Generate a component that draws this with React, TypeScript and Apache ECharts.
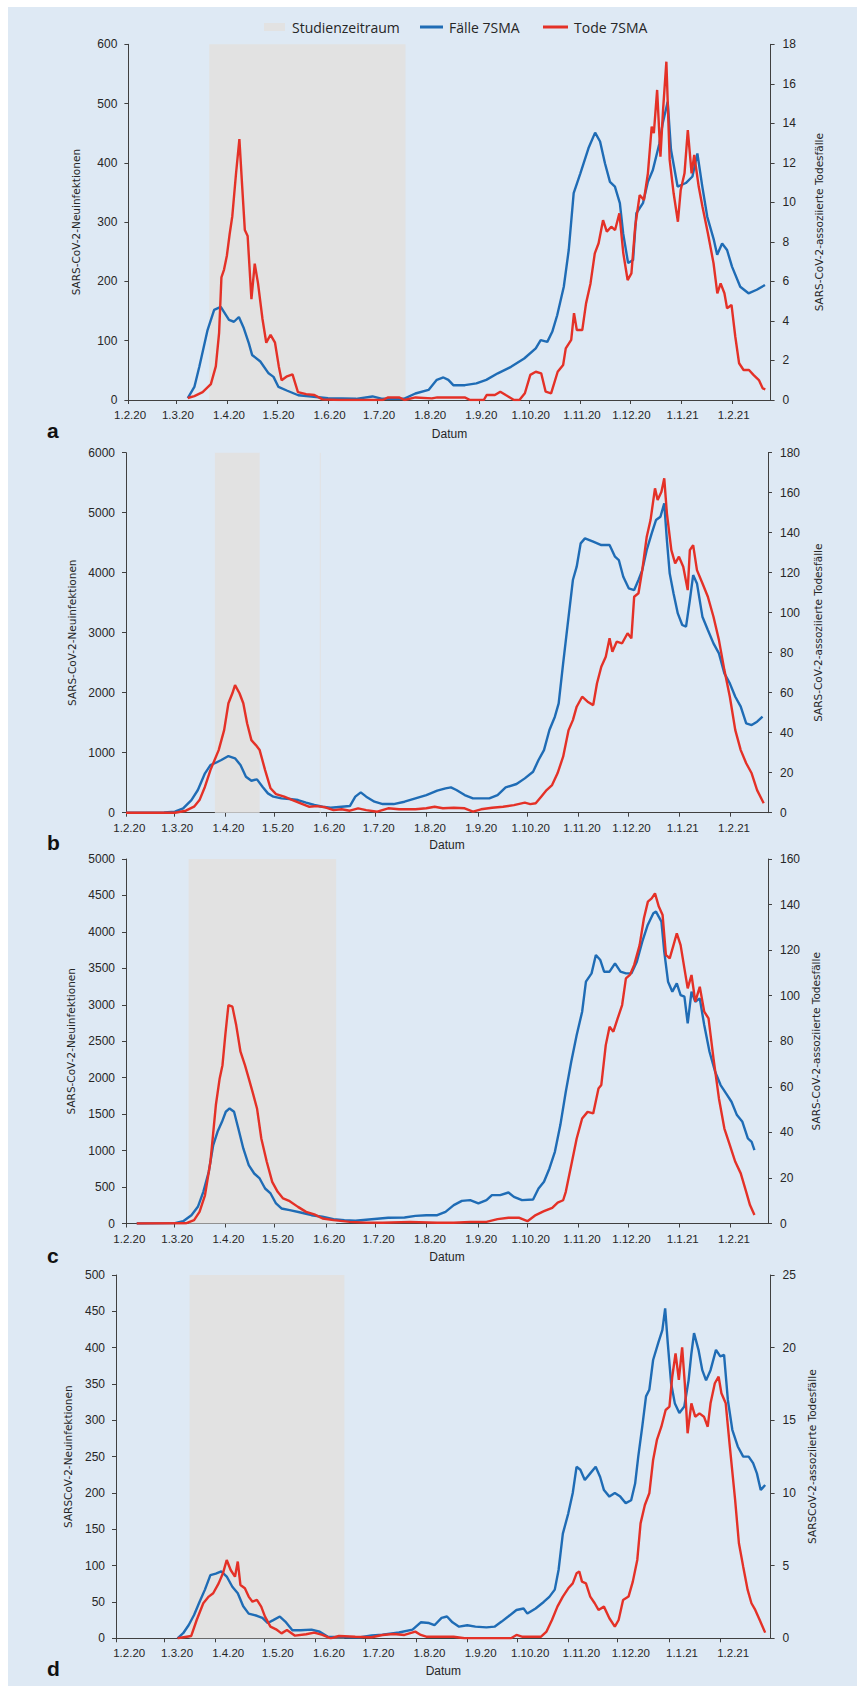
import React, { useEffect, useRef } from "react";
import * as echarts from "echarts";

// Days counted from 1 Feb 2020 (day 0)
const monthTickDays = [0, 29, 60, 90, 121, 151, 182, 213, 243, 274, 304, 335, 366];
const monthLabels = ["1.2.20", "1.3.20", "1.4.20", "1.5.20", "1.6.20", "1.7.20", "1.8.20", "1.9.20", "1.10.20", "1.11.20", "1.12.20", "1.1.21", "1.2.21"];

const legendLabels = ["Studienzeitraum", "Fälle 7SMA", "Tode 7SMA"];
const panelLetters = ["a", "b", "c", "d"];
const xAxisTitle = "Datum";

// Study periods [startDay, endDay]
const aStudy = [[49, 168]];
const bStudy = [[53.8, 80.9], [117.3, 117.9]];
const cStudy = [[37.9, 127.2]];
const dStudy = [[44.6, 138.4]];

// ---- panel a ----
const aCases = [[36,3],[40,22],[43,56],[48,118],[52,152],[56,157],[61,135],[64,132],[67,140],[70,121],[73,96],[75,76],[80,65],[85,45],[88,39],[91,22],[96,16],[103,8],[111,6],[121,3],[138,2],[148,6],[154,2],[167,2],[174,11],[182,17],[187,34],[191,38],[194,34],[197,25],[204,25],[211,28],[217,34],[224,45],[232,56],[240,70],[247,87],[250,101],[254,98],[257,115],[260,143],[264,191],[267,253],[270,349],[274,382],[279,425],[283,451],[286,436],[289,399],[292,368],[295,360],[298,332],[300,281],[303,231],[306,236],[308,315],[312,332],[315,368],[318,388],[322,433],[324,467],[327,503],[329,422],[333,360],[338,366],[342,377],[345,416],[348,360],[351,309],[355,270],[357,245],[360,264],[363,253],[366,225],[371,191],[376,180],[381,186],[386,194]];
const aDeaths = [[36,0.1],[40,0.2],[45,0.4],[50,0.8],[53,1.7],[55,3.4],[56.4,6.2],[58,6.6],[59.7,7.3],[61.4,8.4],[63,9.3],[65.3,11.5],[67.3,13.2],[69,10.8],[70.6,8.6],[72.3,8.3],[74.6,5.1],[76.6,6.9],[78.6,5.9],[81.3,4.1],[83.6,2.9],[86.2,3.3],[88.9,2.9],[91.2,1.7],[92.9,1],[96.2,1.2],[99.5,1.3],[102.8,0.4],[107.8,0.3],[112.8,0.25],[117.7,0.03],[127.7,0],[154.2,0],[157.5,0.13],[164.1,0.13],[167.4,0],[174.1,0.13],[184,0.08],[187.3,0.13],[203.9,0.13],[207.2,0],[215.5,0],[217.2,0.25],[222.2,0.25],[225.5,0.42],[228.8,0.25],[233.8,0],[237.1,0],[240.4,0.34],[243.7,1.27],[247,1.43],[250.3,1.35],[253,0.42],[256.3,0.34],[260.3,1.43],[263.6,1.77],[265.2,2.61],[268.5,3.04],[270.2,4.39],[271.9,3.54],[275.2,3.54],[277.5,4.89],[280.2,5.9],[282.8,7.42],[285.1,7.93],[287.8,9.1],[290.1,8.52],[292.8,8.77],[295.1,8.6],[297.7,9.45],[300.1,7.42],[302.7,6.07],[305,6.41],[307.3,8.77],[310,10.37],[312.6,10.12],[315,11.47],[317.3,13.83],[318.6,13.5],[320.6,15.69],[322.6,12.31],[324.2,14.68],[326.2,17.12],[328.2,12.15],[330.6,10.46],[333.2,9.02],[334.9,10.63],[337.2,11.47],[339.2,13.66],[341.5,11.47],[343.1,12.4],[345.8,10.8],[348.1,9.78],[351.4,8.43],[354.8,6.92],[357.1,5.4],[359.1,5.9],[361.4,5.4],[363,4.64],[365.7,4.81],[368,3.2],[370.3,1.86],[373,1.52],[376.3,1.52],[379,1.27],[382.3,1.01],[384.6,0.59],[386.2,0.54]];

// ---- panel b ----
const bCases = [[0,0],[23,5],[29.6,17],[34.6,72],[39.6,211],[43.5,378],[47.8,656],[51.1,794],[54.4,833],[57.7,878],[62,944],[66,906],[69.3,794],[72.6,600],[75.9,533],[79.3,556],[82.6,433],[85.9,322],[89.2,267],[94.1,239],[99.1,228],[104.1,211],[109,167],[114,128],[119,100],[123.9,83],[130.5,100],[135.5,111],[138.8,267],[142.1,339],[145.4,267],[150.4,183],[155.4,144],[162,144],[168.6,183],[175.2,239],[181.8,294],[188.4,367],[193.4,406],[196.7,422],[200,378],[205,294],[210,239],[214.9,239],[219.9,239],[224.9,294],[229.8,422],[236.4,478],[241.4,572],[246.4,683],[249.7,878],[253,1044],[256.3,1378],[259.6,1600],[261.9,1822],[264.6,2489],[267.9,3267],[270.5,3878],[272.8,4100],[275.2,4489],[277.8,4572],[282.8,4517],[287.7,4461],[292.7,4461],[296,4267],[298.3,4211],[301,3933],[304.3,3739],[307.6,3711],[310.2,3878],[312.5,4044],[315.2,4378],[318.2,4656],[320.8,4878],[323.5,4933],[325.8,5156],[327.4,4544],[329.1,3989],[331.4,3656],[334,3322],[336.7,3128],[339,3100],[341.3,3544],[343.3,3961],[345.6,3822],[348.9,3267],[352.2,3044],[355.6,2822],[358.9,2656],[362.2,2322],[365.5,2156],[368.8,1933],[372.1,1767],[375.4,1489],[378.7,1461],[382,1517],[385.3,1600]];
const bDeaths = [[0,0],[29.6,0],[36.2,1],[41.2,3],[44.5,6.3],[47.8,13],[51.1,21.3],[56.1,31.3],[59.4,41.3],[62,54.7],[64.4,59.7],[66,63.8],[68.7,59.7],[71,54.7],[73.3,44.7],[75.9,36.3],[78.6,33.8],[80.9,31.3],[84.2,21.3],[87.5,12.2],[90.8,9.3],[95.8,8],[100.8,6.3],[105.7,4.7],[110.7,3],[115.6,3.3],[120.6,2.7],[125.6,1.3],[130.5,1.7],[135.5,1],[140.5,2.2],[145.4,1.3],[152.1,0.5],[158.7,2.2],[165.3,1.7],[175.2,1.7],[181.8,2.2],[186.8,3],[191.8,2.2],[198.4,2.5],[205,2.2],[210,0.5],[214.9,1.7],[221.6,2.5],[228.2,3],[234.8,3.8],[241.4,5],[244.7,4.3],[248,4.7],[251.3,8],[254.6,11.3],[257.9,13.8],[261.2,19.7],[264.6,28],[267.9,41.3],[270.5,46.3],[272.8,53],[276.1,58],[279.4,55.5],[282.8,53.8],[285.1,64.7],[287.7,73],[290.4,78],[292.7,87.2],[294.4,80.5],[297,85.5],[300.3,84.7],[303.6,89.7],[305.9,87.2],[307.6,108],[310.2,109.7],[312.5,121.3],[315.2,138],[317.5,146.3],[320.2,162.2],[321.8,156.3],[324.1,160.5],[325.8,167.2],[327.4,149.7],[330.1,131.3],[332.4,124.7],[334.7,128],[337.3,123],[340,111.3],[341.3,131.3],[343.3,133.8],[345.6,121.3],[348.9,114.7],[352.2,108],[355.6,98],[358.9,86.3],[362.2,71.3],[365.5,58],[368.8,41.3],[372.1,31.3],[375.4,24.7],[378.7,19.7],[382,11.3],[386,4.7]];

// ---- panel c ----
const cCases = [[6.5,0],[29.6,5],[34.6,32],[39.6,114],[43.5,229],[46.8,435],[50.1,709],[52.8,1075],[55.4,1258],[58.1,1395],[60.4,1533],[62.7,1578],[65.4,1533],[68,1304],[71,1029],[74.3,801],[77.6,686],[80.9,618],[84.2,480],[87.5,412],[90.8,275],[94.1,206],[99.1,183],[105.7,151],[112.3,114],[118.9,92],[125.6,59],[132.2,46],[138.8,37],[148.7,59],[158.7,78],[168.6,82],[175.2,105],[181.8,114],[188.4,114],[193.4,160],[198.4,252],[203.3,311],[208.3,320],[213.3,275],[218.2,320],[221.5,389],[226.5,389],[231.5,425],[234.8,366],[239.7,320],[246.4,329],[249.7,480],[253,572],[256.3,755],[259.6,984],[262.9,1350],[266.2,1807],[269.5,2219],[272.8,2585],[276.1,2905],[278.4,3317],[281.8,3431],[284.4,3683],[287.1,3614],[289.4,3454],[292.7,3454],[296,3569],[299.3,3454],[302.6,3431],[305.9,3431],[309.2,3591],[312.5,3866],[315.8,4095],[319.2,4255],[320.8,4278],[324.1,4140],[325.8,3729],[328.1,3317],[330.7,3180],[333.4,3294],[335.7,3134],[338,3111],[340,2745],[342.3,3180],[344.6,3042],[347.3,3088],[350,2722],[353.2,2356],[356.6,2082],[359.9,1899],[363.2,1784],[366.5,1670],[369.8,1487],[373.1,1395],[376.4,1167],[378.7,1121],[380.4,1007]];
const cDeaths = [[6.5,0],[36.2,0.1],[41.2,1.5],[44.5,5.1],[47.8,12.4],[51.1,27.1],[54.4,52],[56.7,63.7],[58.4,69.5],[60.1,82.7],[62,95.9],[64.4,95.2],[66.7,87.1],[69.3,75.4],[72,69.5],[74.3,63.7],[76.6,57.8],[79.3,50.5],[81.9,37.3],[85.2,27.1],[88.5,18.3],[91.8,13.9],[95.1,11],[99.1,9.8],[104.1,7.3],[109,5.1],[114,4],[119,2.2],[125.6,1.5],[135.5,0.7],[145.4,0.4],[155.4,0.3],[171.9,0.7],[188.4,0.3],[198.4,0.3],[208.3,0.7],[218.2,0.7],[224.9,1.9],[231.5,2.5],[238.1,2.5],[243,1],[248,3.7],[253,5.4],[258,6.9],[261.3,9.2],[264.6,10.2],[266.2,13.9],[269.5,25.6],[272.8,37.3],[276.1,46.1],[279.4,49],[282.8,48.3],[286,59.3],[287.7,60.8],[290.4,78.3],[292.7,86.4],[295,84.2],[297.6,90],[300.3,95.9],[302.6,107.6],[305,109.1],[307.6,113.5],[310.9,122.2],[313.5,134],[315.9,141.3],[318.2,142.7],[320.2,144.9],[322.5,139.1],[324.8,135.4],[326.8,117.9],[329.1,116.4],[331.4,122.2],[333.4,127.4],[335.7,122.2],[338,112],[340,103.2],[342.3,109.1],[344.6,97.4],[347.3,103.9],[350,93],[352.6,90],[355.6,72.5],[358.9,54.9],[362.2,41.7],[365.5,34.4],[368.8,27.1],[372.1,22],[375.4,13.9],[377.7,8.1],[380.4,3.7]];

// ---- panel d ----
const dCases = [[37.3,0],[40.7,7],[44,18],[47.3,32],[50.6,50],[53.9,67],[57.2,87],[60.5,89],[63.8,92],[67.1,85],[70.5,71],[73.8,62],[77.1,44],[80.4,34],[85.4,31],[88.7,28],[92,21],[95.3,25],[99.3,30],[102.6,23],[106.9,11],[111.9,11],[118.5,12],[123.5,9],[128.4,2],[135.1,2],[141.7,1.4],[148.3,1.4],[154.9,4],[161.5,5],[171.5,8],[179.7,12],[184.7,22],[189.7,21],[193,18],[197.3,28],[200.6,30],[203.9,22],[207.9,16],[212.9,18],[217.8,16],[224.5,15],[229.4,16],[233.7,23],[237.7,30],[242.7,39],[247,41],[249.3,34],[254.3,41],[259.2,50],[262.6,57],[265.9,67],[268.2,94],[270.8,144],[274.1,172],[276.8,200],[279.1,236],[281.4,232],[284.1,218],[287.4,227],[290.7,236],[293.4,222],[295.7,204],[299,195],[302.3,200],[305.6,195],[308.9,186],[312.2,190],[314.6,213],[316.5,250],[318.9,291],[321.2,333],[323.2,342],[325.5,383],[328.8,408],[331.1,424],[332.8,454],[334.4,406],[336.4,351],[338.7,323],[341.4,310],[344.4,319],[347,355],[348.7,392],[350.3,420],[353,397],[355.3,369],[357.6,355],[360.3,369],[363.6,397],[366.2,388],[368.5,390],[370.8,328],[373.5,287],[376.8,264],[380.1,250],[383.4,250],[386.1,241],[388.4,227],[390.7,204],[393.4,211]];
const dDeaths = [[37.3,0],[45.6,0.16],[48.9,1.26],[52.9,2.41],[56.2,2.87],[58.9,3.1],[62.2,3.78],[64.8,4.47],[67.1,5.39],[69.5,4.7],[72.1,4.24],[73.8,5.28],[75.4,3.67],[78.1,3.44],[80.4,2.87],[82.7,2.52],[85.4,2.64],[88,2.18],[90.3,1.49],[93.6,0.8],[97,0.62],[100.3,0.34],[103.6,0.57],[108.5,0.18],[115.2,0.28],[120.1,0.39],[125.1,0.23],[130.1,0],[135.1,0.16],[145,0.11],[154.9,0.07],[161.5,0.23],[168.2,0.3],[174.8,0.23],[181.4,0.46],[184.7,0.23],[188,0.11],[194.7,0.11],[204.6,0.11],[211.2,0],[227.8,0],[239.4,0],[242.7,0.23],[246,0.11],[251,0.11],[257.6,0.11],[260.9,0.46],[264.2,1.26],[267.5,2.18],[270.8,2.87],[274.1,3.44],[276.8,3.78],[279.1,4.47],[280.8,4.59],[282.4,3.9],[284.8,3.78],[287.4,2.87],[290.1,2.41],[292.4,1.95],[295.7,2.18],[299,1.38],[302.3,0.8],[304.6,1.26],[307.3,2.64],[310.6,2.87],[313.2,3.9],[315.9,5.39],[317.9,7.91],[320.5,9.17],[323.2,9.98],[325.5,12.27],[327.8,13.65],[330.5,14.56],[333.1,15.71],[335.4,15.94],[337.1,18],[339.1,19.61],[341.1,17.78],[343.1,20.02],[344.7,17.55],[346.4,14.11],[348.7,16.17],[351,15.25],[353.6,15.48],[356.3,15.25],[358.6,14.56],[360.3,16.17],[362.9,17.55],[365.2,18],[366.9,16.86],[369.5,16.17],[371.8,13.42],[375.2,9.52],[377.5,6.54],[380.1,4.93],[382.8,3.33],[385.1,2.41],[387.4,1.95],[390.1,1.26],[393.4,0.39]];

const panels = [
  { cases: aCases, deaths: aDeaths, study: aStudy, leftMax: 600, leftInt: 100, rightMax: 18, rightInt: 2, leftName: "SARS-CoV-2-Neuinfektionen", rightName: "SARS-CoV-2-assoziierte Todesfälle" },
  { cases: bCases, deaths: bDeaths, study: bStudy, leftMax: 6000, leftInt: 1000, rightMax: 180, rightInt: 20, leftName: "SARS-CoV-2-Neuinfektionen", rightName: "SARS-CoV-2-assoziierte Todesfälle" },
  { cases: cCases, deaths: cDeaths, study: cStudy, leftMax: 5000, leftInt: 500, rightMax: 160, rightInt: 20, leftName: "SARS-CoV-2-Neuinfektionen", rightName: "SARS-CoV-2-assoziierte Todesfälle" },
  { cases: dCases, deaths: dDeaths, study: dStudy, leftMax: 500, leftInt: 50, rightMax: 25, rightInt: 5, leftName: "SARSCoV-2-Neuinfektionen", rightName: "SARSCoV-2-assoziierte Todesfälle" },
];

// Layout (page pixels)
const layout = [
  { left: 128.4, width: 642.2, top: 44.3, height: 355.7, xMax: 389.4, labelShift: 1, lGap: 47, rGap: 43, xGap: 28, letterY: 441 },
  { left: 126, width: 642, top: 452.7, height: 360, xMax: 388.6, labelShift: 2, lGap: 45, rGap: 44, xGap: 26, letterY: 853 },
  { left: 126, width: 642, top: 859, height: 364.5, xMax: 388.6, labelShift: 2, lGap: 50, rGap: 40, xGap: 27, letterY: 1266 },
  { left: 116, width: 654.6, top: 1275, height: 363.3, xMax: 396.7, labelShift: 8, lGap: 43, rGap: 36, xGap: 27, letterY: 1679 },
];

const BLUE = "#1f6cb5";
const RED = "#e43127";
const SHADE = "#e2e2e2";
const BG = "#dee9f4";
const AXIS = "#404040";
const TEXT = "#262626";

export default function App() {
  const ref = useRef<HTMLDivElement>(null);
  useEffect(() => {
    if (!ref.current) return;
    const chart = echarts.init(ref.current, undefined, { renderer: "svg" });
    const grids: any[] = [];
    const xAxes: any[] = [];
    const yAxes: any[] = [];
    const series: any[] = [];
    panels.forEach((p, i) => {
      const L = layout[i];
      grids.push({ left: L.left, top: L.top, width: L.width, height: L.height, containLabel: false });
      const labelVals = monthTickDays.map((d) => d + L.labelShift);
      xAxes.push({
        type: "value", gridIndex: i, min: 0, max: L.xMax,
        axisLine: { show: true, onZero: false, lineStyle: { color: AXIS, width: 1 } },
        axisTick: { show: true, customValues: monthTickDays, length: 4, lineStyle: { color: AXIS } },
        axisLabel: {
          customValues: labelVals, margin: 9, fontSize: 11.5, color: TEXT, fontFamily: "Liberation Sans",
          formatter: (v: number) => { const k = labelVals.findIndex((d) => Math.abs(d - v) < 0.01); return k >= 0 ? monthLabels[k] : ""; },
        },
        splitLine: { show: false },
        name: xAxisTitle, nameLocation: "middle", nameGap: L.xGap,
        nameTextStyle: { fontSize: 12, color: TEXT, fontFamily: "Liberation Sans" },
      });
      yAxes.push({
        type: "value", gridIndex: i, position: "left", min: 0, max: p.leftMax, interval: p.leftInt,
        axisLine: { show: true, lineStyle: { color: AXIS, width: 1 } },
        axisTick: { show: true, length: 4, lineStyle: { color: AXIS } },
        axisLabel: { margin: 11, fontSize: 12, color: TEXT, fontFamily: "Liberation Sans", formatter: (v: number) => String(v) },
        splitLine: { show: false },
        name: p.leftName, nameLocation: "middle", nameRotate: 90, nameGap: L.lGap,
        nameTextStyle: { fontSize: 10.5, color: TEXT, fontFamily: "DejaVu Sans" },
      });
      yAxes.push({
        type: "value", gridIndex: i, position: "right", min: 0, max: p.rightMax, interval: p.rightInt,
        axisLine: { show: true, lineStyle: { color: AXIS, width: 1 } },
        axisTick: { show: true, length: 4, lineStyle: { color: AXIS } },
        axisLabel: { margin: 12, fontSize: 12, color: TEXT, fontFamily: "Liberation Sans", formatter: (v: number) => String(v) },
        splitLine: { show: false },
        name: p.rightName, nameLocation: "middle", nameRotate: 90, nameGap: L.rGap,
        nameTextStyle: { fontSize: 10.5, color: TEXT, fontFamily: "DejaVu Sans" },
      });
      series.push({
        type: "line", xAxisIndex: i, yAxisIndex: 2 * i, data: [], z: 1, silent: true,
        markArea: { silent: true, itemStyle: { color: SHADE, opacity: 1 }, data: p.study.map(([s, e]) => [{ xAxis: s }, { xAxis: e }]) },
      });
      series.push({
        type: "line", name: "Fälle 7SMA", xAxisIndex: i, yAxisIndex: 2 * i, data: p.cases, showSymbol: false, symbol: "none", z: 3,
        lineStyle: { color: BLUE, width: 2.4 }, itemStyle: { color: BLUE },
      });
      series.push({
        type: "line", name: "Tode 7SMA", xAxisIndex: i, yAxisIndex: 2 * i + 1, data: p.deaths, showSymbol: false, symbol: "none", z: 4,
        lineStyle: { color: RED, width: 2.4 }, itemStyle: { color: RED },
      });
    });

    const graphic: any[] = [
      { type: "rect", shape: { x: 0, y: 0, width: 857, height: 7 }, style: { fill: "#ffffff" }, silent: true },
      { type: "rect", shape: { x: 0, y: 0, width: 8, height: 1686 }, style: { fill: "#ffffff" }, silent: true },
      { type: "rect", shape: { x: 264, y: 23, width: 21, height: 8 }, style: { fill: SHADE } },
      { type: "text", x: 292, y: 27, style: { text: legendLabels[0], fontSize: 14, fontFamily: "Open Sans", fill: TEXT, verticalAlign: "middle" } },
      { type: "line", shape: { x1: 420, y1: 27, x2: 443, y2: 27 }, style: { stroke: BLUE, lineWidth: 3 } },
      { type: "text", x: 449, y: 27, style: { text: legendLabels[1], fontSize: 14, fontFamily: "Open Sans", fill: TEXT, verticalAlign: "middle" } },
      { type: "line", shape: { x1: 543, y1: 27, x2: 568, y2: 27 }, style: { stroke: RED, lineWidth: 3 } },
      { type: "text", x: 574, y: 27, style: { text: legendLabels[2], fontSize: 14, fontFamily: "Open Sans", fill: TEXT, verticalAlign: "middle" } },
    ];
    panelLetters.forEach((t, i) => {
      graphic.push({ type: "text", x: 47, y: layout[i].letterY, style: { text: t, fontSize: 21, fontWeight: "bold", fontFamily: "Liberation Sans", fill: "#111", verticalAlign: "bottom" } });
    });

    chart.setOption({
      animation: false,
      backgroundColor: BG,
      grid: grids,
      xAxis: xAxes,
      yAxis: yAxes,
      series,
      graphic,
    });
    return () => chart.dispose();
  }, []);
  return <div ref={ref} style={{ position: "absolute", left: 0, top: 0, width: 857, height: 1686 }} />;
}
